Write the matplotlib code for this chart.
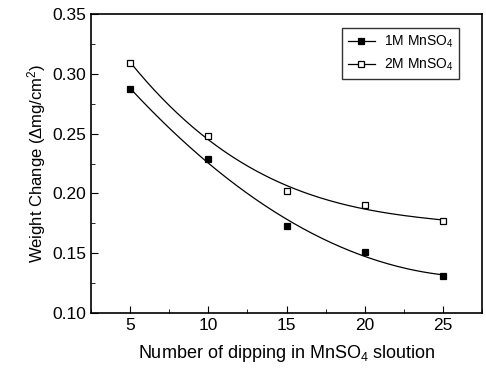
import numpy as np
import matplotlib
matplotlib.use("Agg")
import matplotlib.pyplot as plt
from matplotlib.ticker import MultipleLocator

plt.rcParams['font.family'] = ['Liberation Sans', 'DejaVu Sans']
plt.rcParams['mathtext.fontset'] = 'custom'
plt.rcParams['mathtext.rm'] = 'Liberation Sans'
plt.rcParams['mathtext.it'] = 'Liberation Sans:italic'

dips = [5, 10, 15, 20, 25]
w_1m = [0.287, 0.229, 0.173, 0.151, 0.131]
w_2m = [0.309, 0.248, 0.202, 0.190, 0.177]
labels = ['1M MnSO$_4$', '2M MnSO$_4$']

fig = plt.figure(figsize=(4.86, 3.71), dpi=100)
ax = fig.add_axes([91/486, 1-313/371, (482-91)/486, (313-14)/371])

xs = np.linspace(5, 25, 200)
for y, mfc, lab in [(w_1m, 'black', labels[0]), (w_2m, 'white', labels[1])]:
    c = np.polyfit(dips, y, 3)
    ax.plot(xs, np.polyval(c, xs), color='black', lw=0.9)
    ax.plot(dips, y, 's', ms=4.5, mfc=mfc, mec='black', mew=0.9)
    ax.plot([], [], '-s', color='black', lw=0.9, ms=4, mfc=mfc, mec='black', mew=0.9, label=lab)

ax.set_xlim(2.5, 27.5)
ax.set_ylim(0.10, 0.35)
ax.xaxis.set_major_locator(MultipleLocator(5))
ax.xaxis.set_minor_locator(MultipleLocator(2.5))
ax.yaxis.set_major_locator(MultipleLocator(0.05))
ax.yaxis.set_minor_locator(MultipleLocator(0.025))
ax.yaxis.set_major_formatter(plt.FormatStrFormatter('%.2f'))
ax.tick_params(which='both', direction='in', labelsize=12.5)
ax.tick_params(which='major', length=5)
ax.tick_params(which='minor', length=3)
for s in ax.spines.values():
    s.set_linewidth(1.2)

ax.set_xlabel('Number of dipping in MnSO$_4$ sloution', fontsize=13, labelpad=7)
ax.set_ylabel('Weight Change ($\\Delta$mg/cm$^2$)', fontsize=12, labelpad=3)

leg = ax.legend(loc='upper right', bbox_to_anchor=(0.941, 0.953), fontsize=10, frameon=True,
                fancybox=False, edgecolor='black', handlelength=2.0, handletextpad=0.6,
                borderpad=0.4, labelspacing=0.5, borderaxespad=0)
leg.get_frame().set_linewidth(1.0)

fig.savefig('out.png', dpi=100)
